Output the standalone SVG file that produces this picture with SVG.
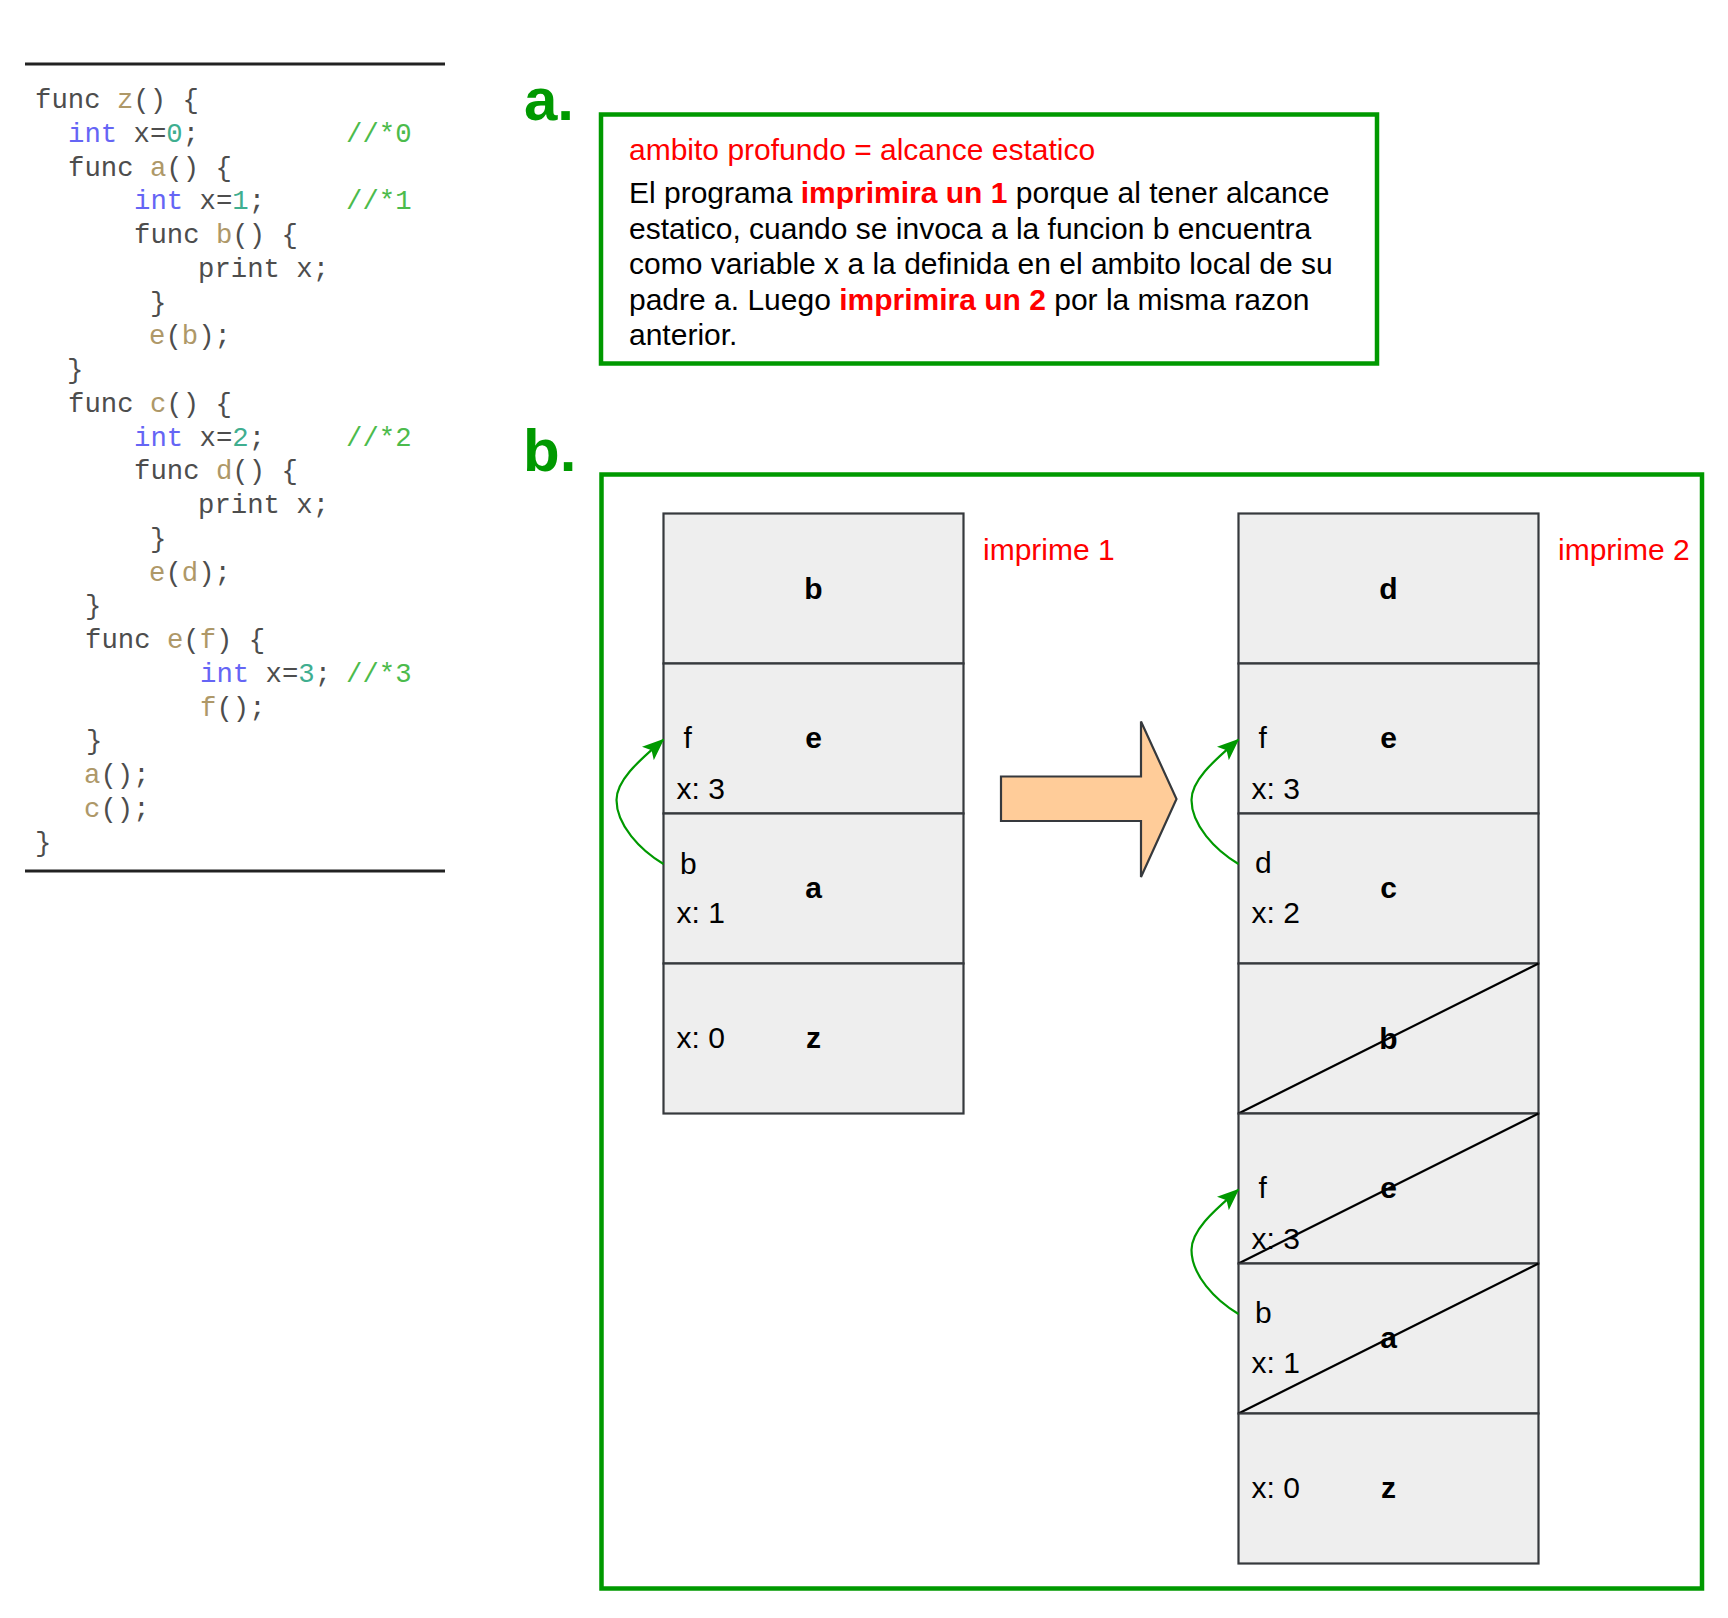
<svg xmlns="http://www.w3.org/2000/svg" width="1728" height="1618" viewBox="0 0 1728 1618">
<defs>
<style>
.code{font-family:"Liberation Mono","DejaVu Sans Mono",monospace;font-size:27.3px;fill:#4d4d4d}
.kw{fill:#6565f5}.num{fill:#3fae90}.cm{fill:#4cbb4c}.fn{fill:#ae9868}
.rule{stroke:#222;stroke-width:3}
.gbox{fill:none;stroke:#009900;stroke-width:4.5}
.big{font-family:"Liberation Sans",Arial,sans-serif;font-size:60px;font-weight:bold;fill:#009900}
.t{font-family:"Liberation Sans",Arial,sans-serif;font-size:30px;fill:#000}
.red{fill:#ff0000}
.bold{font-weight:bold}
.row{fill:#eeeeee;stroke:#36393d;stroke-width:2.2}
.lbl{font-family:"Liberation Sans",Arial,sans-serif;font-size:30px;font-weight:bold;fill:#000;text-anchor:middle}
.strike{stroke:#000;stroke-width:2.2}
.link{fill:none;stroke:#009900;stroke-width:2.2}
</style>
<marker id="ga" viewBox="0 0 22 18" refX="21" refY="9" markerWidth="22" markerHeight="18" markerUnits="userSpaceOnUse" orient="auto">
<path d="M0,0 L22,9 L0,18 L5,9 Z" fill="#009900"/>
</marker>
</defs>
<rect width="1728" height="1618" fill="#fff"/>

<g id="code">
<line class="rule" x1="25" y1="64" x2="445" y2="64"/>
<line class="rule" x1="25" y1="871" x2="445" y2="871"/>
<text class="code" x="35" y="108">func <tspan class="fn">z</tspan>() {</text>
<text class="code" x="68" y="141.75"><tspan class="kw">int</tspan> x=<tspan class="num">0</tspan>;<tspan class="cm" x="346">//*0</tspan></text>
<text class="code" x="68" y="175.5">func <tspan class="fn">a</tspan>() {</text>
<text class="code" x="134" y="209.25"><tspan class="kw">int</tspan> x=<tspan class="num">1</tspan>;<tspan class="cm" x="346">//*1</tspan></text>
<text class="code" x="134" y="243">func <tspan class="fn">b</tspan>() {</text>
<text class="code" x="198" y="276.75">print x;</text>
<text class="code" x="150" y="310.5">}</text>
<text class="code" x="149" y="344.25"><tspan class="fn">e</tspan>(<tspan class="fn">b</tspan>);</text>
<text class="code" x="67" y="378">}</text>
<text class="code" x="68" y="411.75">func <tspan class="fn">c</tspan>() {</text>
<text class="code" x="134" y="445.5"><tspan class="kw">int</tspan> x=<tspan class="num">2</tspan>;<tspan class="cm" x="346">//*2</tspan></text>
<text class="code" x="134" y="479.25">func <tspan class="fn">d</tspan>() {</text>
<text class="code" x="198" y="513">print x;</text>
<text class="code" x="150" y="546.75">}</text>
<text class="code" x="149" y="580.5"><tspan class="fn">e</tspan>(<tspan class="fn">d</tspan>);</text>
<text class="code" x="85" y="614.25">}</text>
<text class="code" x="85" y="648">func <tspan class="fn">e</tspan>(<tspan class="fn">f</tspan>) {</text>
<text class="code" x="200" y="681.75"><tspan class="kw">int</tspan> x=<tspan class="num">3</tspan>; <tspan class="cm" x="346">//*3</tspan></text>
<text class="code" x="200" y="715.5"><tspan class="fn">f</tspan>();</text>
<text class="code" x="86" y="749.25">}</text>
<text class="code" x="84" y="783"><tspan class="fn">a</tspan>();</text>
<text class="code" x="84" y="816.75"><tspan class="fn">c</tspan>();</text>
<text class="code" x="35" y="850.5">}</text>
</g>

<g id="part-a">
<text class="big" x="524" y="120">a.</text>
<rect class="gbox" x="601" y="114.5" width="776" height="249"/>
<text class="t red" x="629" y="160">ambito profundo = alcance estatico</text>
<text class="t" x="629" y="203">El programa <tspan class="red bold">imprimira un 1</tspan> porque al tener alcance</text>
<text class="t" x="629" y="238.5">estatico, cuando se invoca a la funcion b encuentra</text>
<text class="t" x="629" y="274">como variable x a la definida en el ambito local de su</text>
<text class="t" x="629" y="309.5">padre a. Luego <tspan class="red bold">imprimira un 2</tspan> por la misma razon</text>
<text class="t" x="629" y="345">anterior.</text>
</g>

<g id="part-b">
<text class="big" x="523" y="471">b.</text>
<rect class="gbox" x="601.5" y="474.5" width="1100.5" height="1114"/>
<text class="t red" x="983" y="560">imprime 1</text>
<text class="t red" x="1558" y="560">imprime 2</text>
</g>

<g id="stack1-b"><rect class="row" x="663.5" y="513.5" width="300" height="150"/><text class="lbl" x="813.5" y="598.5">b</text></g>
<g id="stack1-e"><rect class="row" x="663.5" y="663.5" width="300" height="150"/><text class="lbl" x="813.5" y="748">e</text><text class="t" x="683.5" y="748">f</text><text class="t" x="676.5" y="798.5">x: 3</text></g>
<g id="stack1-a"><rect class="row" x="663.5" y="813.5" width="300" height="150"/><text class="lbl" x="813.5" y="897.5">a</text><text class="t" x="680" y="873.5">b</text><text class="t" x="676.5" y="922.5">x: 1</text></g>
<g id="stack1-z"><rect class="row" x="663.5" y="963.5" width="300" height="150"/><text class="lbl" x="813.5" y="1047.5">z</text><text class="t" x="676.5" y="1047.5">x: 0</text></g>

<g id="big-arrow"><polygon points="1001,776.5 1141,776.5 1141,721.5 1176.5,799 1141,877 1141,821 1001,821" fill="#ffcc99" stroke="#36393d" stroke-width="2.2"/></g>

<g id="stack2-d"><rect class="row" x="1238.5" y="513.5" width="300" height="150"/><text class="lbl" x="1388.5" y="598.5">d</text></g>
<g id="stack2-e"><rect class="row" x="1238.5" y="663.5" width="300" height="150"/><text class="lbl" x="1388.5" y="748">e</text><text class="t" x="1258.5" y="748">f</text><text class="t" x="1251.5" y="798.5">x: 3</text></g>
<g id="stack2-c"><rect class="row" x="1238.5" y="813.5" width="300" height="150"/><text class="lbl" x="1388.5" y="897.5">c</text><text class="t" x="1255" y="873">d</text><text class="t" x="1251.5" y="922.5">x: 2</text></g>
<g id="stack2-b"><rect class="row" x="1238.5" y="963.5" width="300" height="150"/><text class="lbl" x="1388.5" y="1048.5">b</text><line class="strike" x1="1238.5" y1="1113.5" x2="1538.5" y2="963.5"/></g>
<g id="stack2-e2"><rect class="row" x="1238.5" y="1113.5" width="300" height="150"/><text class="lbl" x="1388.5" y="1198">e</text><text class="t" x="1258.5" y="1198">f</text><text class="t" x="1251.5" y="1248.5">x: 3</text><line class="strike" x1="1238.5" y1="1263.5" x2="1538.5" y2="1113.5"/></g>
<g id="stack2-a"><rect class="row" x="1238.5" y="1263.5" width="300" height="150"/><text class="lbl" x="1388.5" y="1347.5">a</text><text class="t" x="1255" y="1323">b</text><text class="t" x="1251.5" y="1372.5">x: 1</text><line class="strike" x1="1238.5" y1="1413.5" x2="1538.5" y2="1263.5"/></g>
<g id="stack2-z"><rect class="row" x="1238.5" y="1413.5" width="300" height="150"/><text class="lbl" x="1388.5" y="1497.5">z</text><text class="t" x="1251.5" y="1497.5">x: 0</text></g>

<g id="connectors">
<path class="link" marker-end="url(#ga)" d="M663.5,864 C640,850 616.5,825 616.5,800 C616.5,778 645,756 663.5,739.5"/>
<path class="link" marker-end="url(#ga)" d="M1238.5,864 C1215,850 1191.5,825 1191.5,800 C1191.5,778 1220,756 1238.5,739.5"/>
<path class="link" marker-end="url(#ga)" d="M1238.5,1314 C1215,1300 1191.5,1275 1191.5,1250 C1191.5,1228 1220,1206 1238.5,1189.5"/>
</g>
</svg>
